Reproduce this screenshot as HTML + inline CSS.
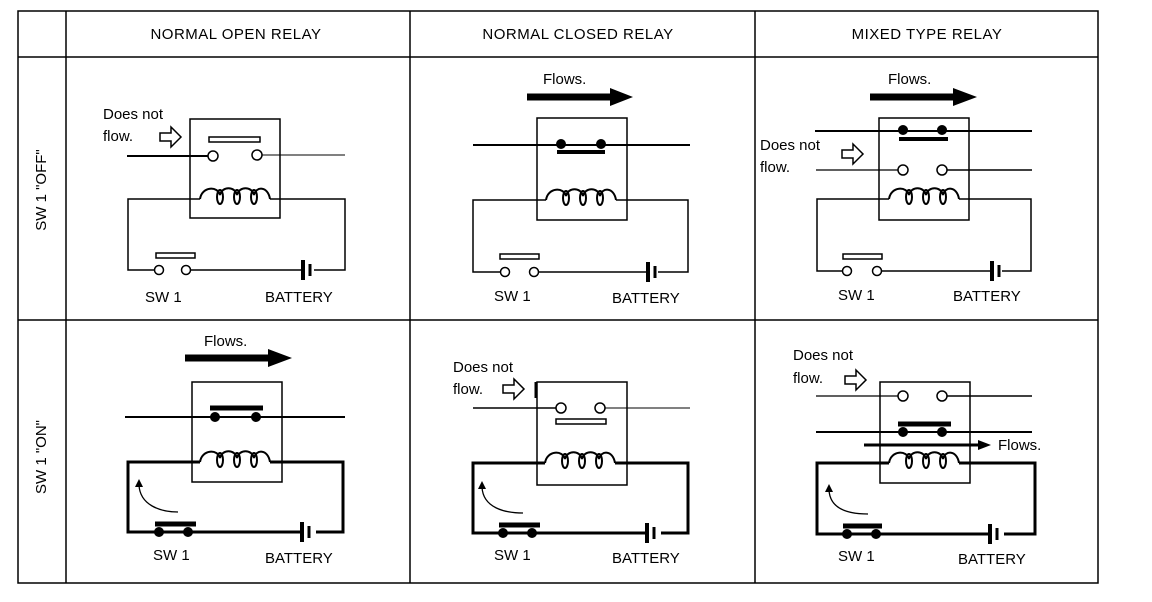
<!DOCTYPE html>
<html><head><meta charset="utf-8"><style>
html,body{margin:0;padding:0;background:#fff;}
svg{display:block;}
text{font-family:"Liberation Sans",sans-serif;fill:#000;}
</style></head><body>
<svg width="1152" height="602" viewBox="0 0 1152 602" xmlns="http://www.w3.org/2000/svg">
<defs>
<g id="coil" fill="none" stroke="#000" stroke-width="2">
<path d="M0,0 C2,-13 18,-13 20,-4 C22,-13 35,-13 37,-4 C39,-13 52,-13 54,-4 C56,-13 68,-13 70,0"/>
<ellipse cx="20" cy="-2" rx="3" ry="7"/><ellipse cx="37" cy="-2" rx="3" ry="7"/><ellipse cx="54" cy="-2" rx="3" ry="7"/>
</g>
<g id="batt" stroke="#000">
<line x1="0" y1="-10" x2="0" y2="10" stroke-width="4"/>
<line x1="7" y1="-6" x2="7" y2="6" stroke-width="3"/>
</g>
<g id="hollow" fill="#fff" stroke="#000" stroke-width="1.5">
<path d="M0,-4 H11 V-10 L21,0 L11,10 V4 H0 Z"/>
</g>
</defs>

<g stroke="#000" stroke-width="1.5" fill="none">
<rect x="18" y="11" width="1080" height="572"/>
<line x1="18" y1="57" x2="1098" y2="57"/>
<line x1="18" y1="320" x2="1098" y2="320"/>
<line x1="66" y1="11" x2="66" y2="583"/>
<line x1="410" y1="11" x2="410" y2="583"/>
<line x1="755" y1="11" x2="755" y2="583"/>
</g>
<g font-size="15" text-anchor="middle" letter-spacing="0.5">
<text x="236" y="39">NORMAL OPEN RELAY</text>
<text x="578" y="39">NORMAL CLOSED RELAY</text>
<text x="927" y="39">MIXED TYPE RELAY</text>
</g>
<text font-size="15" text-anchor="middle" transform="translate(46,190) rotate(-90)">SW 1 "OFF"</text>
<text font-size="15" text-anchor="middle" transform="translate(46,457) rotate(-90)">SW 1 "ON"</text>

<g font-size="15">
<rect x="190" y="119" width="90" height="99" fill="none" stroke="#000" stroke-width="1.5"/>
<rect x="209" y="137" width="51" height="5" fill="none" stroke="#000" stroke-width="1.5"/>
<line x1="127" y1="156" x2="208" y2="156" stroke="#000" stroke-width="2"/>
<line x1="262" y1="155" x2="345" y2="155" stroke="#000" stroke-width="1"/>
<circle cx="213" cy="156" r="5" fill="#fff" stroke="#000" stroke-width="1.5"/>
<circle cx="257" cy="155" r="5" fill="#fff" stroke="#000" stroke-width="1.5"/>
<use href="#coil" x="200" y="199"/>
<polyline points="200,199 128,199 128,270 154,270" fill="none" stroke="#000" stroke-width="1.5"/>
<polyline points="270,199 345,199 345,270 314,270" fill="none" stroke="#000" stroke-width="1.5"/>
<line x1="190" y1="270" x2="303" y2="270" stroke="#000" stroke-width="1.5"/>
<circle cx="159" cy="270" r="4.5" fill="#fff" stroke="#000" stroke-width="1.5"/>
<circle cx="186" cy="270" r="4.5" fill="#fff" stroke="#000" stroke-width="1.5"/>
<rect x="156" y="253" width="39" height="5" fill="none" stroke="#000" stroke-width="1.5"/>
<use href="#batt" x="303" y="270"/>
<text x="145" y="302">SW 1</text>
<text x="265" y="302">BATTERY</text>
<text x="103" y="119">Does not</text>
<text x="103" y="141">flow.</text>
<use href="#hollow" x="160" y="137"/>

<text x="543" y="84">Flows.</text>
<line x1="527" y1="97" x2="612" y2="97" stroke="#000" stroke-width="7"/>
<polygon points="610,88 633,97 610,106" fill="#000"/>
<rect x="537" y="118" width="90" height="102" fill="none" stroke="#000" stroke-width="1.5"/>
<line x1="473" y1="145" x2="690" y2="145" stroke="#000" stroke-width="2"/>
<circle cx="561" cy="144" r="5" fill="#000"/>
<circle cx="601" cy="144" r="5" fill="#000"/>
<line x1="557" y1="152" x2="605" y2="152" stroke="#000" stroke-width="4"/>
<use href="#coil" x="546" y="200"/>
<polyline points="546,200 473,200 473,272 500,272" fill="none" stroke="#000" stroke-width="1.5"/>
<polyline points="616,200 688,200 688,272 658,272" fill="none" stroke="#000" stroke-width="1.5"/>
<line x1="535" y1="272" x2="647" y2="272" stroke="#000" stroke-width="1.5"/>
<circle cx="505" cy="272" r="4.5" fill="#fff" stroke="#000" stroke-width="1.5"/>
<circle cx="534" cy="272" r="4.5" fill="#fff" stroke="#000" stroke-width="1.5"/>
<rect x="500" y="254" width="39" height="5" fill="none" stroke="#000" stroke-width="1.5"/>
<use href="#batt" x="648" y="272"/>
<text x="494" y="301">SW 1</text>
<text x="612" y="303">BATTERY</text>

<text x="888" y="84">Flows.</text>
<line x1="870" y1="97" x2="955" y2="97" stroke="#000" stroke-width="7"/>
<polygon points="953,88 977,97 953,106" fill="#000"/>
<rect x="879" y="118" width="90" height="102" fill="none" stroke="#000" stroke-width="1.5"/>
<line x1="815" y1="131" x2="1032" y2="131" stroke="#000" stroke-width="2"/>
<circle cx="903" cy="130" r="5" fill="#000"/>
<circle cx="942" cy="130" r="5" fill="#000"/>
<line x1="899" y1="139" x2="948" y2="139" stroke="#000" stroke-width="4"/>
<line x1="816" y1="170" x2="898" y2="170" stroke="#000" stroke-width="1.2"/>
<line x1="947" y1="170" x2="1032" y2="170" stroke="#000" stroke-width="1.5"/>
<circle cx="903" cy="170" r="5" fill="#fff" stroke="#000" stroke-width="1.5"/>
<circle cx="942" cy="170" r="5" fill="#fff" stroke="#000" stroke-width="1.5"/>
<use href="#coil" x="889" y="199"/>
<polyline points="889,199 817,199 817,271 843,271" fill="none" stroke="#000" stroke-width="1.5"/>
<polyline points="959,199 1031,199 1031,271 1002,271" fill="none" stroke="#000" stroke-width="1.5"/>
<line x1="879" y1="271" x2="991" y2="271" stroke="#000" stroke-width="1.5"/>
<circle cx="847" cy="271" r="4.5" fill="#fff" stroke="#000" stroke-width="1.5"/>
<circle cx="877" cy="271" r="4.5" fill="#fff" stroke="#000" stroke-width="1.5"/>
<rect x="843" y="254" width="39" height="5" fill="none" stroke="#000" stroke-width="1.5"/>
<use href="#batt" x="992" y="271"/>
<text x="838" y="300">SW 1</text>
<text x="953" y="301">BATTERY</text>
<text x="760" y="150">Does not</text>
<text x="760" y="172">flow.</text>
<use href="#hollow" x="842" y="154"/>

<text x="204" y="346">Flows.</text>
<line x1="185" y1="358" x2="270" y2="358" stroke="#000" stroke-width="7"/>
<polygon points="268,349 292,358 268,367" fill="#000"/>
<rect x="192" y="382" width="90" height="100" fill="none" stroke="#000" stroke-width="1.5"/>
<line x1="125" y1="417" x2="345" y2="417" stroke="#000" stroke-width="2"/>
<circle cx="215" cy="417" r="5" fill="#000"/>
<circle cx="256" cy="417" r="5" fill="#000"/>
<line x1="210" y1="408" x2="263" y2="408" stroke="#000" stroke-width="5"/>
<use href="#coil" x="200" y="462"/>
<polyline points="200,462 128,462 128,532 343,532 343,462 270,462" fill="none" stroke="#000" stroke-width="3"/>
<circle cx="159" cy="532" r="5" fill="#000"/>
<circle cx="188" cy="532" r="5" fill="#000"/>
<line x1="155" y1="524" x2="196" y2="524" stroke="#000" stroke-width="5"/>
<rect x="300" y="520" width="16" height="24" fill="#fff"/>
<use href="#batt" x="302" y="532"/>
<text x="153" y="560">SW 1</text>
<text x="265" y="563">BATTERY</text>
<path d="M178,512 C160,512 140,505 139,485" fill="none" stroke="#000" stroke-width="1.3"/>
<polygon points="135,487 139,479 143,487" fill="#000"/>

<text x="453" y="372">Does not</text>
<text x="453" y="394">flow.</text>
<use href="#hollow" x="503" y="389"/>
<rect x="537" y="382" width="90" height="103" fill="none" stroke="#000" stroke-width="1.5"/>
<line x1="536" y1="382" x2="536" y2="398" stroke="#000" stroke-width="3"/>
<line x1="473" y1="408" x2="556" y2="408" stroke="#000" stroke-width="1.5"/>
<line x1="605" y1="408" x2="690" y2="408" stroke="#000" stroke-width="1"/>
<circle cx="561" cy="408" r="5" fill="#fff" stroke="#000" stroke-width="1.5"/>
<circle cx="600" cy="408" r="5" fill="#fff" stroke="#000" stroke-width="1.5"/>
<rect x="556" y="419" width="50" height="5" fill="none" stroke="#000" stroke-width="1.5"/>
<use href="#coil" x="545" y="463"/>
<polyline points="545,463 473,463 473,533 688,533 688,463 615,463" fill="none" stroke="#000" stroke-width="3"/>
<circle cx="503" cy="533" r="5" fill="#000"/>
<circle cx="532" cy="533" r="5" fill="#000"/>
<line x1="499" y1="525" x2="540" y2="525" stroke="#000" stroke-width="5"/>
<rect x="645" y="521" width="16" height="24" fill="#fff"/>
<use href="#batt" x="647" y="533"/>
<text x="494" y="560">SW 1</text>
<text x="612" y="563">BATTERY</text>
<path d="M523,513 C505,513 483,508 482,487" fill="none" stroke="#000" stroke-width="1.3"/>
<polygon points="478,489 482,481 486,489" fill="#000"/>

<text x="793" y="360">Does not</text>
<text x="793" y="383">flow.</text>
<use href="#hollow" x="845" y="380"/>
<rect x="880" y="382" width="90" height="101" fill="none" stroke="#000" stroke-width="1.5"/>
<line x1="816" y1="396" x2="898" y2="396" stroke="#000" stroke-width="1.2"/>
<line x1="947" y1="396" x2="1032" y2="396" stroke="#000" stroke-width="1.5"/>
<circle cx="903" cy="396" r="5" fill="#fff" stroke="#000" stroke-width="1.5"/>
<circle cx="942" cy="396" r="5" fill="#fff" stroke="#000" stroke-width="1.5"/>
<line x1="816" y1="432" x2="1032" y2="432" stroke="#000" stroke-width="2"/>
<circle cx="903" cy="432" r="5" fill="#000"/>
<circle cx="942" cy="432" r="5" fill="#000"/>
<line x1="898" y1="424" x2="951" y2="424" stroke="#000" stroke-width="5"/>
<line x1="864" y1="445" x2="980" y2="445" stroke="#000" stroke-width="3"/>
<polygon points="978,440 991,445 978,450" fill="#000"/>
<text x="998" y="450">Flows.</text>
<use href="#coil" x="889" y="463"/>
<polyline points="889,463 817,463 817,534 1035,534 1035,463 959,463" fill="none" stroke="#000" stroke-width="3"/>
<circle cx="847" cy="534" r="5" fill="#000"/>
<circle cx="876" cy="534" r="5" fill="#000"/>
<line x1="843" y1="526" x2="882" y2="526" stroke="#000" stroke-width="5"/>
<rect x="988" y="522" width="16" height="24" fill="#fff"/>
<use href="#batt" x="990" y="534"/>
<text x="838" y="561">SW 1</text>
<text x="958" y="564">BATTERY</text>
<path d="M868,514 C850,514 830,510 829,490" fill="none" stroke="#000" stroke-width="1.3"/>
<polygon points="825,492 829,484 833,492" fill="#000"/>
</g>
</svg>
</body></html>
